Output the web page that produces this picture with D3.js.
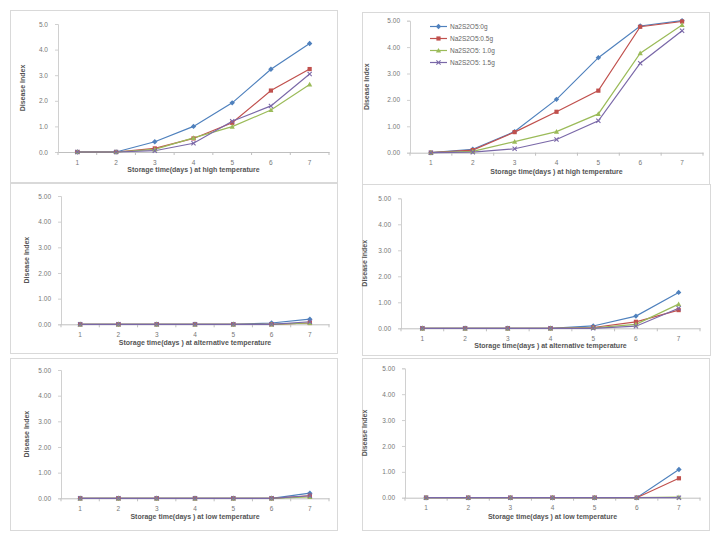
<!DOCTYPE html>
<html><head><meta charset="utf-8">
<script src="https://cdn.jsdelivr.net/npm/d3@7"></script>
<style>body{margin:0;background:#fff;} svg{display:block;font-family:"Liberation Sans",Arial,sans-serif;}</style>
</head><body>
<svg id="c" width="719" height="538"></svg>
<script>
const days = [1,2,3,4,5,6,7];
const seriesNames = ["Na2S2O5:0g","Na2S2O5:0.5g","Na2S2O5: 1.0g","Na2S2O5: 1.5g"];
const seriesColors = ["#4f81bd","#c0504d","#9bbb59","#7a68a8"];
const yTicks = [0,1,2,3,4,5];
const xTitles = ["Storage time(days ) at high temperature","Storage time(days ) at alternative temperature","Storage time(days ) at low temperature"];
const yTitle = "Disease Index";

// Panel values: [0g, 0.5g, 1.0g, 1.5g]
const highA = [[0,0,0.40,1.00,1.92,3.23,4.24],[0,0,0.14,0.53,1.14,2.40,3.24],[0,0,0.10,0.55,0.99,1.64,2.64],[0,0,0.05,0.34,1.20,1.80,3.05]];
const highB = [[0,0.13,0.80,2.02,3.60,4.80,5.00],[0,0.10,0.78,1.55,2.35,4.77,4.97],[0,0.05,0.42,0.80,1.47,3.77,4.84],[0,0.02,0.15,0.50,1.21,3.39,4.62]];
const altA = [[0,0,0,0,0,0.05,0.20],[0,0,0,0,0,0,0.05],[0,0,0,0,0,0,0.05],[0,0,0,0,0,0,0.10]];
const altB = [[0,0,0,0,0.09,0.47,1.38],[0,0,0,0,0.03,0.25,0.70],[0,0,0,0,0.02,0.15,0.93],[0,0,0,0,0,0.08,0.77]];
const lowA = [[0,0,0,0,0,0,0.20],[0,0,0,0,0,0,0.10],[0,0,0,0,0,0,0.05],[0,0,0,0,0,0,0.10]];
const lowB = [[0,0,0,0,0,0,1.09],[0,0,0,0,0,0,0.75],[0,0,0,0,0,0,0.02],[0,0,0,0,0,0,0]];

const panels = [
  {data:highA, title:0, box:[10,10,337,182], x:[58,329], y:[152,24], xl:172, yl:25, legend:false, fmt:".1f"},
  {data:highB, title:0, box:[362,12,709,185], x:[410,703], y:[152.7,20.7], xl:174, yl:369, legend:true, fmt:".2f"},
  {data:altA, title:1, box:[10,183,337,353], x:[61,329], y:[324.3,196], xl:345, yl:29, legend:false, fmt:".2f"},
  {data:altB, title:1, box:[362,184,710,355], x:[401,700], y:[328.3,198.3], xl:348, yl:367, legend:false, fmt:".2f"},
  {data:lowA, title:2, box:[10,358,337,530], x:[61,329], y:[498.3,370], xl:519, yl:29, legend:false, fmt:".2f"},
  {data:lowB, title:2, box:[362,358,709,530], x:[405,700], y:[497.7,368.3], xl:519, yl:367, legend:false, fmt:".2f"}
];

const svg = d3.select("#c");

function marker(g, i, cx, cy, col){
  const s = 2.1;
  if(i===0){
    g.append("path").attr("d",`M${cx},${cy-s-0.6}L${cx+s+0.6},${cy}L${cx},${cy+s+0.6}L${cx-s-0.6},${cy}Z`).attr("fill",col);
  } else if(i===1){
    g.append("rect").attr("x",cx-s).attr("y",cy-s).attr("width",2*s).attr("height",2*s).attr("fill",col);
  } else if(i===2){
    g.append("path").attr("d",`M${cx},${cy-s-0.5}L${cx+s+0.5},${cy+s}L${cx-s-0.5},${cy+s}Z`).attr("fill",col);
  } else {
    g.append("path").attr("d",`M${cx-s},${cy-s}L${cx+s},${cy+s}M${cx-s},${cy+s}L${cx+s},${cy-s}`).attr("stroke",col).attr("stroke-width",1.1);
  }
}

panels.forEach(p=>{
  const g = svg.append("g");
  const [bx0,by0,bx1,by1] = p.box;
  g.append("rect").attr("x",bx0+0.5).attr("y",by0+0.5).attr("width",bx1-bx0).attr("height",by1-by0)
    .attr("fill","#fff").attr("stroke","#d9d9d9").attr("stroke-width",1);

  const x = d3.scaleBand().domain(days).range(p.x);
  const y = d3.scaleLinear().domain([0,5]).range(p.y);

  const ya = g.append("g").attr("transform",`translate(${p.x[0]},0)`)
    .call(d3.axisLeft(y).tickValues(yTicks).tickFormat(d3.format(p.fmt)).tickSize(3).tickPadding(7));
  ya.select(".domain").attr("stroke","#d0d0d0");
  ya.selectAll(".tick line").attr("stroke","#d0d0d0");
  ya.selectAll("text").attr("fill","#777").attr("font-size",6.5);

  const xa = g.append("g").attr("transform",`translate(0,${p.y[0]})`)
    .call(d3.axisBottom(x).tickSize(0).tickPadding(8));
  xa.select(".domain").attr("stroke","#bfbfbf");
  xa.selectAll("text").attr("fill","#777").attr("font-size",6.5);
  days.concat([8]).forEach((d,k)=>{
    const xx = k<days.length ? x(d) : x(days[days.length-1])+x.bandwidth();
    g.append("line").attr("x1",xx).attr("x2",xx).attr("y1",p.y[0]).attr("y2",p.y[0]+3).attr("stroke","#bfbfbf");
  });

  g.append("text").attr("x",(p.x[0]+p.x[1])/2).attr("y",p.xl).attr("text-anchor","middle")
    .attr("font-size",7).attr("font-weight","bold").attr("fill","#555").text(xTitles[p.title]);
  g.append("text").attr("transform",`translate(${p.yl},${(p.y[0]+p.y[1])/2}) rotate(-90)`).attr("text-anchor","middle")
    .attr("font-size",7).attr("font-weight","bold").attr("fill","#555").text(yTitle);

  const line = d3.line().x((d,k)=>x(days[k])+x.bandwidth()/2).y(d=>y(d));
  p.data.forEach((vals,i)=>{
    g.append("path").attr("d",line(vals)).attr("fill","none").attr("stroke",seriesColors[i]).attr("stroke-width",1.2);
  });
  p.data.forEach((vals,i)=>{
    vals.forEach((v,k)=>marker(g,i,x(days[k])+x.bandwidth()/2,y(v),seriesColors[i]));
  });

  if(p.legend){
    const lx = 430, ly = 26.5, dy = 12;
    seriesNames.forEach((n,i)=>{
      const yy = ly + i*dy;
      g.append("line").attr("x1",lx).attr("x2",lx+17).attr("y1",yy).attr("y2",yy).attr("stroke",seriesColors[i]).attr("stroke-width",1.2);
      marker(g,i,lx+8.5,yy,seriesColors[i]);
      g.append("text").attr("x",lx+20).attr("y",yy+2.3).attr("font-size",6.5).attr("fill","#666").text(n);
    });
  }
});
</script>
</body></html>
